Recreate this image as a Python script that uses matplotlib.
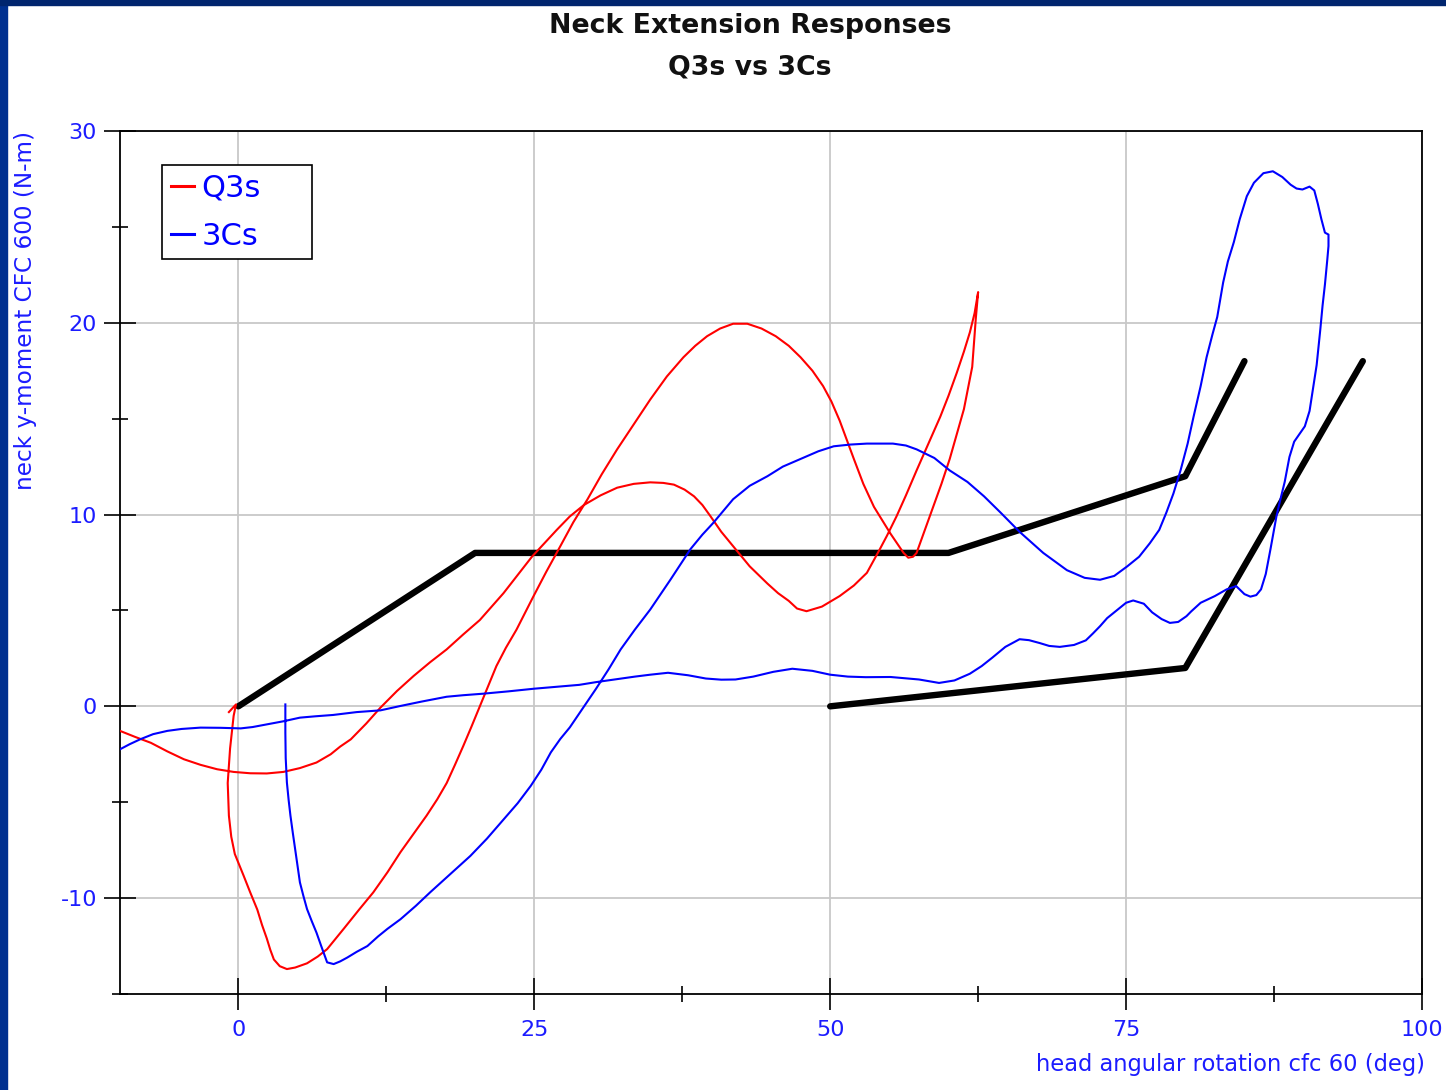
import matplotlib
matplotlib.use("Agg")
import matplotlib.pyplot as plt
from matplotlib.patches import Rectangle
from matplotlib.ticker import FixedLocator

plt.rcParams['font.family'] = ['DejaVu Sans']

# ---- data ----
q3s_x = [-0.8, -0.2, -0.4, -0.7, -0.9, -0.8, -0.6, -0.3, 0.45, 1.0, 1.6, 2.0, 2.4, 2.7, 3.0, 3.5,
         4.1, 4.8, 5.8, 6.7, 7.5, 8.9, 10.2, 11.4, 12.6, 13.7, 14.8, 15.9, 16.8, 17.6, 18.3, 19.0,
         19.7, 20.4, 21.1, 21.8, 22.6, 23.5, 24.2, 24.9, 26.0, 27.2, 28.3, 29.5, 30.7, 32.0, 33.4,
         34.8, 36.2, 37.6, 38.6, 39.6, 40.7, 41.8, 43.0, 44.2, 45.4, 46.5, 47.5, 48.5, 49.4, 50.1,
         50.8, 51.4, 52.0, 52.8, 53.7, 54.4, 55.1, 55.7, 56.2, 56.6, 57.0, 57.3, 58.0, 58.7, 59.4,
         60.1, 60.7, 61.3, 62.0, 62.3, 62.5, 62.2, 61.8, 61.3, 60.7, 60.0, 59.3, 58.3, 57.3, 56.4,
         55.6, 54.8, 54.2, 53.1, 52.0, 50.8, 49.3, 48.0, 47.2, 46.5, 45.6, 44.7, 43.2, 41.8, 40.8,
         39.9, 39.2, 38.5, 37.7, 36.8, 35.9, 34.8, 33.4, 32.0, 30.6, 29.2, 28.0, 26.9, 24.8, 23.6,
         22.4, 21.4, 20.4, 19.0, 17.6, 16.2, 14.8, 13.4, 12.0, 10.8, 9.5, 8.6, 7.8, 6.6, 5.2, 3.8,
         2.4, 1.0, -0.4, -1.8, -3.2, -4.6, -6.0, -7.4, -8.7, -10.0]
q3s_y = [-0.3, 0.1, -0.5, -2.2, -4.0, -5.7, -6.8, -7.7, -8.84, -9.7, -10.6, -11.4, -12.1, -12.7,
         -13.2, -13.55, -13.7, -13.62, -13.4, -13.05, -12.66, -11.6, -10.6, -9.7, -8.65, -7.6,
         -6.65, -5.7, -4.85, -4.0, -3.05, -2.07, -1.05, 0.0, 1.05, 2.1, 3.05, 4.0, 4.85, 5.7, 7.0,
         8.35, 9.6, 10.8, 12.1, 13.4, 14.7, 16.0, 17.2, 18.2, 18.8, 19.3, 19.7, 19.95, 19.95, 19.7,
         19.3, 18.8, 18.2, 17.5, 16.7, 15.9, 14.9, 13.9, 12.9, 11.6, 10.4, 9.7, 9.0, 8.45, 8.0,
         7.75, 7.8, 8.0, 9.2, 10.4, 11.6, 12.9, 14.2, 15.5, 17.7, 20.2, 21.6, 20.5, 19.5, 18.5,
         17.4, 16.2, 15.1, 13.7, 12.3, 11.0, 9.9, 8.9, 8.2, 6.96, 6.3, 5.75, 5.2, 4.96, 5.1, 5.5,
         5.9, 6.4, 7.3, 8.35, 9.1, 9.9, 10.5, 10.95, 11.3, 11.56, 11.65, 11.68, 11.6, 11.4, 11.0,
         10.5, 9.9, 9.2, 7.8, 6.85, 5.9, 5.2, 4.5, 3.75, 2.97, 2.3, 1.58, 0.8, -0.07, -0.9, -1.72,
         -2.1, -2.5, -2.93, -3.22, -3.42, -3.5, -3.49, -3.42, -3.28, -3.05, -2.76, -2.35, -1.9,
         -1.6, -1.28]

c3s_x = [3.97, 3.97, 4.0, 4.1, 4.25, 4.4, 4.6, 4.8, 5.0, 5.2, 5.5, 5.8, 6.2, 6.6, 7.0, 7.5, 8.05,
         8.6, 9.2, 10.0, 10.9, 11.8, 12.6, 13.7, 15.0, 16.2, 17.9, 19.6, 21.0, 22.4, 23.6, 24.7,
         25.6, 26.4, 27.2, 28.0, 29.1, 30.2, 31.3, 32.3, 33.5, 34.8, 36.5, 38.2, 39.2, 40.1, 41.8,
         43.2, 44.7, 46.0, 47.5, 49.0, 50.3, 51.7, 53.1, 55.3, 56.4, 57.3, 58.8, 60.1, 61.6, 63.0,
         64.4, 66.0, 68.0, 70.0, 71.5, 72.8, 74.0, 75.1, 76.1, 77.0, 77.8, 78.4, 79.0, 79.6, 80.2,
         80.7, 81.3, 81.8, 82.3, 82.7, 83.2, 83.6, 84.1, 84.6, 85.2, 85.8, 86.6, 87.4, 88.2, 88.9,
         89.4, 89.9, 90.5, 90.9, 91.2, 91.5, 91.8, 92.1, 92.1, 92.0, 91.8, 91.6, 91.4, 91.1, 90.8,
         90.5, 90.1, 89.7, 89.2, 88.8, 88.4, 88.0, 87.7, 87.2, 86.8, 86.4, 86.0, 85.5, 85.0, 84.3,
         83.5, 82.5, 81.3, 80.5, 80.1, 79.4, 78.7, 78.0, 77.2, 76.5, 75.6, 75.0, 74.2, 73.4, 72.8,
         72.2, 71.6, 70.6, 69.4, 68.5, 67.7, 66.8, 66.0, 64.8, 63.7, 62.8, 61.8, 60.5, 59.2, 57.5,
         55.1, 53.0, 51.5, 50.0, 48.5, 46.8, 45.2, 43.5, 42.0, 40.8, 39.5, 38.0, 36.3, 34.8, 33.5,
         31.8, 30.3, 28.8, 27.5, 25.0, 22.8, 20.7, 19.0, 17.6, 15.5, 13.7, 12.0, 10.0, 8.0, 6.5,
         5.2, 3.8, 2.4, 1.2, 0.2, -1.5, -3.2, -4.8, -6.0, -7.2, -8.3, -9.2, -10.0]
c3s_y = [0.1, -1.37, -2.7, -3.97, -4.9, -5.7, -6.6, -7.45, -8.3, -9.18, -9.9, -10.57, -11.2, -11.8,
         -12.5, -13.35, -13.44, -13.3, -13.1, -12.8, -12.5, -12.0, -11.6, -11.1, -10.4, -9.7,
         -8.75, -7.8, -6.9, -5.9, -5.05, -4.15, -3.3, -2.4, -1.7, -1.1, -0.1, 0.9, 1.95, 2.97, 4.0,
         5.05, 6.6, 8.2, 8.95, 9.55, 10.8, 11.5, 12.0, 12.5, 12.9, 13.3, 13.56, 13.65, 13.7, 13.7,
         13.6, 13.4, 12.95, 12.3, 11.7, 10.95, 10.1, 9.1, 8.0, 7.1, 6.7, 6.6, 6.8, 7.3, 7.8, 8.5,
         9.2, 10.1, 11.1, 12.3, 13.7, 15.1, 16.7, 18.2, 19.4, 20.3, 22.1, 23.2, 24.2, 25.4, 26.6,
         27.3, 27.8, 27.9, 27.6, 27.2, 27.0, 26.95, 27.1, 26.9, 26.2, 25.4, 24.7, 24.6, 24.0, 23.3,
         22.0, 20.9, 19.6, 17.8, 16.6, 15.4, 14.6, 14.24, 13.8, 13.0, 11.7, 10.7, 9.9, 8.2, 6.9,
         6.1, 5.8, 5.72, 5.85, 6.27, 6.1, 5.75, 5.4, 4.95, 4.7, 4.4, 4.35, 4.55, 4.9, 5.35, 5.52,
         5.4, 5.0, 4.6, 4.18, 3.8, 3.44, 3.2, 3.1, 3.15, 3.3, 3.45, 3.5, 3.1, 2.54, 2.1, 1.7, 1.35,
         1.22, 1.4, 1.53, 1.52, 1.55, 1.65, 1.85, 1.96, 1.8, 1.55, 1.4, 1.39, 1.45, 1.62, 1.75,
         1.65, 1.55, 1.4, 1.27, 1.12, 1.05, 0.92, 0.78, 0.66, 0.58, 0.5, 0.25, 0.02, -0.21, -0.3,
         -0.45, -0.52, -0.59, -0.78, -0.94, -1.08, -1.15, -1.12, -1.11, -1.18, -1.28, -1.45, -1.72,
         -1.98, -2.24]

corridor_upper_x = [0, 20, 60, 80, 85]
corridor_upper_y = [0, 8, 8, 12, 18]
corridor_lower_x = [50, 80, 95]
corridor_lower_y = [0, 2, 18]

x_major = [0, 25, 50, 75, 100]
x_minor = [12.5, 37.5, 62.5, 87.5]
y_major = [-10, 0, 10, 20, 30]
y_minor = [-15, -5, 5, 15, 25]
x_labels = ["0", "25", "50", "75", "100"]
y_labels = ["-10", "0", "10", "20", "30"]

BLUE_TXT = '#1c1cff'

fig = plt.figure(figsize=(14.46, 10.90), dpi=100)
fig.patch.set_facecolor('white')
# navy frame edges
fig.add_artist(Rectangle((0, 0), 7/1446, 1, transform=fig.transFigure, color='#003090', zorder=0))
fig.add_artist(Rectangle((0, 1 - 5/1090), 1, 5/1090, transform=fig.transFigure, color='#00256e', zorder=0))

ax = fig.add_axes([120/1446, 96/1090, 1302/1446, 863/1090])
ax.set_xlim(-10, 100)
ax.set_ylim(-15, 30)

ax.plot(corridor_upper_x, corridor_upper_y, color='black', lw=4.6, solid_capstyle='round', zorder=3)
ax.plot(corridor_lower_x, corridor_lower_y, color='black', lw=4.6, solid_capstyle='round', zorder=3)
ax.plot(q3s_x, q3s_y, color='#ff0000', lw=1.5, label='Q3s', zorder=4)
ax.plot(c3s_x, c3s_y, color='#0000ff', lw=1.5, label='3Cs', zorder=4)

ax.xaxis.set_major_locator(FixedLocator(x_major))
ax.xaxis.set_minor_locator(FixedLocator(x_minor))
ax.yaxis.set_major_locator(FixedLocator(y_major))
ax.yaxis.set_minor_locator(FixedLocator(y_minor))
ax.set_xticklabels(x_labels)
ax.set_yticklabels(y_labels)
ax.tick_params(which='major', direction='inout', length=23, width=1.2, color='black',
               labelsize=16, labelcolor=BLUE_TXT, pad=7)
ax.tick_params(which='minor', direction='inout', length=12, width=1.2, color='black')
ax.tick_params(axis='y', which='major', pad=5)
ax.grid(True, which='major', color='#c8c8c8', lw=1.3, zorder=0)
for s in ax.spines.values():
    s.set_linewidth(1.3)
    s.set_color('black')

leg = ax.legend(loc='upper left', bbox_to_anchor=(0.0323, 0.5, 0.1152, 0.4606), mode='expand',
                borderaxespad=0, fontsize=22, handlelength=0.75, handletextpad=0.25,
                labelspacing=0.63, borderpad=0.28, fancybox=False, framealpha=1, edgecolor='black')
leg.get_frame().set_linewidth(1.2)
for t in leg.get_texts():
    t.set_color('#0000ff')
for ln in leg.get_lines():
    ln.set_linewidth(2.2)

fig.text(750/1446, 1 - 33/1090, 'Neck Extension Responses', ha='center', va='baseline',
         fontsize=19.3, fontweight='bold', color='#111111')
fig.text(750/1446, 1 - 74/1090, 'Q3s vs 3Cs', ha='center', va='baseline',
         fontsize=19.3, fontweight='bold', color='#111111')
fig.text(26/1446, 1 - 310/1090, 'neck y-moment CFC 600 (N-m)', rotation=90, ha='center',
         va='center', fontsize=16.7, color=BLUE_TXT)
fig.text(1425/1446, 1 - 1065/1090, 'head angular rotation cfc 60 (deg)', ha='right',
         va='center', fontsize=16.3, color=BLUE_TXT)

fig.savefig('out.png', dpi=100, facecolor='white')
